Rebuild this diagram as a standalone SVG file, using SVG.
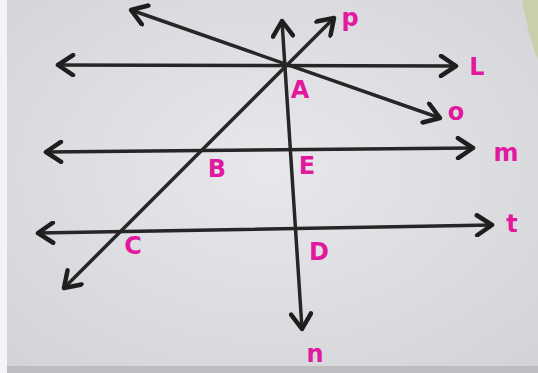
<svg xmlns="http://www.w3.org/2000/svg" width="538" height="373" viewBox="0 0 538 373">
<defs>
<radialGradient id="paper" cx="0.5" cy="0.45" r="0.75">
<stop offset="0" stop-color="#e8e8ec"/>
<stop offset="1" stop-color="#d2d3d7"/>
</radialGradient>
<marker id="arr" viewBox="0 0 24 24" refX="20" refY="12" markerWidth="24" markerHeight="24" markerUnits="userSpaceOnUse" orient="auto-start-reverse">
<path d="M5,2 L20,12 L5,22" fill="none" stroke="#1e1e1e" stroke-width="4.5" stroke-linecap="round" stroke-linejoin="round"/>
</marker>
</defs>
<style>
.ln{stroke:#262626;stroke-width:3.5;fill:none;stroke-linecap:round;marker-start:url(#arr);marker-end:url(#arr)}
.lb{font-family:"DejaVu Sans",sans-serif;font-weight:bold;fill:#e0199f;font-size:24px;text-anchor:middle}
</style>
<rect width="538" height="373" fill="url(#paper)"/>
<rect x="0" y="0" width="7" height="373" fill="#f4f4f6"/>
<path d="M522,0 L538,0 L538,60 C531,42 526,22 522,0 Z" fill="#c9cfa8"/>
<rect x="7" y="366" width="531" height="7" fill="#bdbdc1"/>
<g id="connectors">
<line id="line-L" class="ln" x1="58" y1="65" x2="456" y2="66"/>
<line id="line-m" class="ln" x1="46" y1="152" x2="473" y2="148"/>
<line id="line-t" class="ln" x1="38" y1="233" x2="492" y2="225"/>
<line id="line-n" class="ln" x1="282" y1="21" x2="302" y2="329"/>
<line id="line-p" class="ln" x1="334" y1="18" x2="64" y2="288"/>
<line id="line-o" class="ln" x1="131" y1="10" x2="440" y2="118"/>
</g>
<g id="label-p"><text class="lb" x="350" y="26">p</text></g>
<g id="label-L"><text class="lb" x="477" y="75">L</text></g>
<g id="label-A"><text class="lb" x="300" y="98">A</text></g>
<g id="label-o"><text class="lb" x="456" y="120">o</text></g>
<g id="label-m"><text class="lb" x="506" y="161">m</text></g>
<g id="label-B"><text class="lb" x="217" y="177">B</text></g>
<g id="label-E"><text class="lb" x="307" y="174">E</text></g>
<g id="label-t"><text class="lb" x="512" y="232">t</text></g>
<g id="label-C"><text class="lb" x="133" y="254">C</text></g>
<g id="label-D"><text class="lb" x="319" y="260">D</text></g>
<g id="label-n"><text class="lb" x="315" y="362">n</text></g>
</svg>
